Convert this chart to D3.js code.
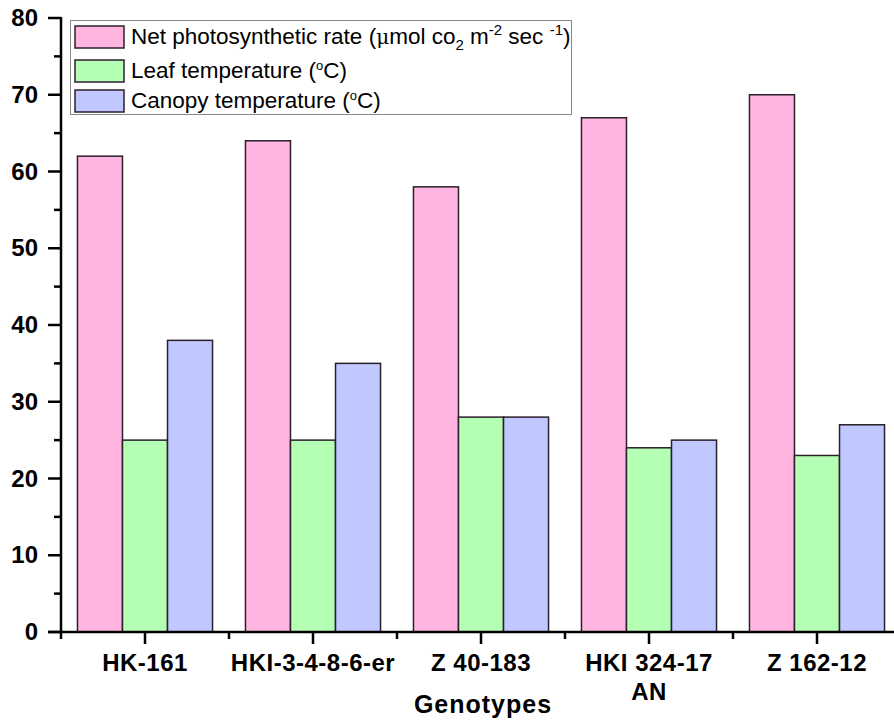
<!DOCTYPE html>
<html>
<head>
<meta charset="utf-8">
<script src="https://cdn.jsdelivr.net/npm/d3@7"></script>
<style>
  html, body { margin: 0; padding: 0; background: #fff; }
  svg { display: block; font-family: "Liberation Sans", Arial, sans-serif; }
</style>
</head>
<body>
<svg id="chart" width="894" height="722"></svg>
<script>
// data
var genotypes = ['HK-161', 'HKI-3-4-8-6-er', 'Z 40-183', 'HKI 324-17\nAN', 'Z 162-12'];
var netPhoto = [62, 64, 58, 67, 70];
var leafTemp = [25, 25, 28, 24, 23];
var canopyTemp = [38, 35, 28, 25, 27];
var seriesNames = ['Net photosynthetic rate', 'Leaf temperature', 'Canopy temperature'];
var seriesColors = ['#FFB5E0', '#B5FFB5', '#C0C8FF'];
var yTicks = [0, 10, 20, 30, 40, 50, 60, 70, 80];

var svg = d3.select('#chart');
var plotL = 61, plotR = 901, plotT = 18, plotB = 632;

var x = d3.scaleBand().domain(genotypes).range([plotL, plotR])
	.paddingInner(0.196).paddingOuter(0.098);
var xs = d3.scaleBand().domain(d3.range(3)).range([0, x.bandwidth()]);
var y = d3.scaleLinear().domain([0, 80]).range([plotB, plotT]);

var rows = genotypes.map(function(g, i) {
	return { name: g, values: [netPhoto[i], leafTemp[i], canopyTemp[i]] };
});

// bars
var grp = svg.append('g').selectAll('g').data(rows).enter().append('g')
	.attr('transform', function(d) { return 'translate(' + x(d.name) + ',0)'; });

grp.selectAll('rect').data(function(d) { return d.values; }).enter().append('rect')
	.attr('x', function(d, i) { return xs(i); })
	.attr('y', function(d) { return y(d); })
	.attr('width', xs.bandwidth())
	.attr('height', function(d) { return y(0) - y(d); })
	.attr('fill', function(d, i) { return seriesColors[i]; })
	.attr('stroke', '#2b1f2b')
	.attr('stroke-width', 1.5);

// y axis
var yAxis = svg.append('g');
yAxis.append('line').attr('x1', plotL).attr('x2', plotL).attr('y1', y(80) - 1).attr('y2', y(0) + 1)
	.attr('stroke', '#000').attr('stroke-width', 2.5);
yTicks.forEach(function(t) {
	yAxis.append('line').attr('x1', plotL - 13).attr('x2', plotL).attr('y1', y(t)).attr('y2', y(t))
		.attr('stroke', '#000').attr('stroke-width', 2.5);
	yAxis.append('text').attr('x', 38).attr('y', y(t) + 8)
		.attr('text-anchor', 'end').attr('font-size', 24).attr('font-weight', 'bold').text(t);
});
d3.range(5, 80, 10).forEach(function(t) {
	yAxis.append('line').attr('x1', plotL - 7).attr('x2', plotL).attr('y1', y(t)).attr('y2', y(t))
		.attr('stroke', '#000').attr('stroke-width', 2.5);
});

// x axis
var xAxis = svg.append('g');
xAxis.append('line').attr('x1', plotL - 13).attr('x2', 894).attr('y1', plotB).attr('y2', plotB)
	.attr('stroke', '#000').attr('stroke-width', 2.5);
var step = x.step();
genotypes.forEach(function(g, i) {
	var cx = x(g) + x.bandwidth() / 2;
	xAxis.append('line').attr('x1', cx).attr('x2', cx).attr('y1', plotB).attr('y2', plotB + 12)
		.attr('stroke', '#000').attr('stroke-width', 2.5);
	var mx = cx - step / 2;
	xAxis.append('line').attr('x1', mx).attr('x2', mx).attr('y1', plotB).attr('y2', plotB + 7)
		.attr('stroke', '#000').attr('stroke-width', 2.5);
	var lines = g.split('\n');
	var txt = xAxis.append('text').attr('x', cx).attr('y', 671)
		.attr('text-anchor', 'middle').attr('font-size', 24).attr('font-weight', 'bold')
		.attr('letter-spacing', 0.5);
	lines.forEach(function(l, j) {
		txt.append('tspan').attr('x', cx).attr('dy', j === 0 ? 0 : 29).text(l);
	});
});

svg.append('text').attr('x', 483).attr('y', 713).attr('text-anchor', 'middle')
	.attr('font-size', 25).attr('font-weight', 'bold').attr('letter-spacing', 1).text('Genotypes');

// legend
var legend = svg.append('g');
legend.append('rect').attr('x', 70.5).attr('y', 20.5).attr('width', 501).attr('height', 94)
	.attr('fill', '#fff').attr('stroke', '#888').attr('stroke-width', 1);
var swY = [26, 60, 90];
seriesNames.forEach(function(name, i) {
	legend.append('rect').attr('x', 75).attr('y', swY[i]).attr('width', 49).attr('height', 22)
		.attr('fill', seriesColors[i]).attr('stroke', '#2b1f2b').attr('stroke-width', 1.5);
});

var fs = 22.5, sub = 15;
var t0 = legend.append('text').attr('x', 131).attr('y', 44).attr('font-size', fs);
t0.append('tspan').text('Net photosynthetic rate (');
t0.append('tspan').attr('font-family', '"DejaVu Serif", serif').attr('font-size', 20).text('μ');
t0.append('tspan').text('mol co');
t0.append('tspan').attr('font-size', sub).attr('dy', 6).text('2');
t0.append('tspan').attr('dy', -6).text(' m');
t0.append('tspan').attr('font-size', sub).attr('dy', -9).text('-2');
t0.append('tspan').attr('dy', 9).text(' sec ');
t0.append('tspan').attr('font-size', sub).attr('dy', -9).text('-1');
t0.append('tspan').attr('dy', 9).text(')');

var t1 = legend.append('text').attr('x', 131).attr('y', 78).attr('font-size', fs);
t1.append('tspan').text('Leaf temperature (');
t1.append('tspan').attr('font-size', 13).attr('dy', -8).text('o');
t1.append('tspan').attr('dy', 8).text('C)');

var t2 = legend.append('text').attr('x', 131).attr('y', 108).attr('font-size', fs);
t2.append('tspan').text('Canopy temperature (');
t2.append('tspan').attr('font-size', 13).attr('dy', -8).text('o');
t2.append('tspan').attr('dy', 8).text('C)');
</script>
</body>
</html>
